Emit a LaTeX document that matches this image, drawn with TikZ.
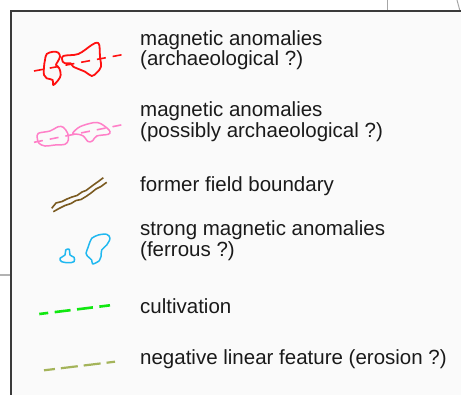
\documentclass[tikz,border=0pt]{standalone}
\usepackage{fontspec}
\setmainfont{Liberation Sans}
\definecolor{boxbg}{HTML}{FAFAFA}
\definecolor{boxline}{HTML}{3A3A3A}
\definecolor{txt}{HTML}{1A1A1A}
\definecolor{redanom}{HTML}{FF1010}
\definecolor{pinkanom}{HTML}{FF80C8}
\definecolor{brownb}{HTML}{7A5A20}
\definecolor{blueanom}{HTML}{20B8F0}
\definecolor{greencult}{HTML}{10E810}
\definecolor{oliveneg}{HTML}{A4B45A}
\tikzset{
  lbl/.style={anchor=base west, inner sep=0pt, text=txt, font=\fontsize{20.5}{21}\selectfont},
  blob/.style={line width=1.8pt, line join=round, smooth cycle, tension=0.55},
}
\begin{document}
\begin{tikzpicture}[x=1pt,y=-1pt]
\useasboundingbox (0,0) rectangle (461,394);
\fill[white] (0,0) rectangle (461,394);
% stray lines outside the box
\draw[gray!70, line width=1pt] (387,0) -- (387,11);
\draw[gray!70, line width=1pt] (457,0) -- (460,11);
\draw[gray!60, line width=1.5pt] (0,275) -- (11,275);
% legend box
\fill[boxbg] (11,11) rectangle (465,398);
\draw[boxline, line width=1.5pt] (11,398) -- (11,11) -- (465,11);

% row 1: red anomalies
\draw[redanom, line width=1.6pt, dash pattern=on 9pt off 7pt] (34,71) -- (126,54);
\draw[redanom, blob] plot coordinates {(46.7,54) (53.3,51.7) (58.3,52.7) (60,56.7) (57.7,61.7) (56,65) (59.3,68.3) (60.7,75) (58.3,80) (53.3,85) (52.7,80) (46.7,78.3) (44,75) (44,66.7) (45,60)};
\draw[redanom, blob] plot coordinates {(63.3,56) (78.3,54) (91.7,45) (96.7,42.7) (99.3,45) (100,56.7) (101,66.7) (96.7,72.7) (91.7,76) (85,71.7) (73.3,66.7) (70.7,63.3) (65,63.3) (62.7,61.7)};
\node[lbl] (t1a) at (140,45) {magnetic anomalies};
\node[lbl] (t1b) at (140,65.5) {(archaeological ?)};

% row 2: pink anomalies
\draw[pinkanom, line width=1.6pt, dash pattern=on 9pt off 7pt] (34,142.3) -- (126,124);
\draw[pinkanom, blob, line width=1.5pt] plot coordinates {(38.3,133.3) (50,131) (58.3,126.7) (63.3,127.3) (67.7,133.3) (68.3,140) (65,144.3) (55,145) (45,146) (39,143.3) (37.3,138.3)};
\draw[pinkanom, blob, line width=1.5pt] plot coordinates {(72.7,133.3) (80,126.7) (93.3,122.7) (100,123.3) (107.3,128.3) (110,131.7) (108.3,134.3) (96.7,136) (92.7,140.7) (88.3,141.7) (83.3,136) (78.3,134.3)};
\node[lbl] (t2a) at (140,116.5) {magnetic anomalies};
\node[lbl] (t2b) at (140,137) {(possibly archaeological ?)};

% row 3: former field boundary
\draw[brownb, line width=1.6pt, line join=round] (51.7,208.3) -- (56,203) -- (62,201.5) -- (67,199) -- (72,197) -- (77,195.5) -- (82,192) -- (86,190.5) -- (90,187.5) -- (94,184.5) -- (99,181) -- (103.3,177.7);
\draw[brownb, line width=1.6pt, line join=round] (53.3,211.7) -- (59,208.5) -- (65,205.5) -- (71,203.5) -- (76,200.5) -- (81,199.5) -- (86,196.5) -- (91,193) -- (96,189) -- (101,186.5) -- (106.7,182.3);
\node[lbl] (t3) at (140,191) {former field boundary};

% row 4: strong magnetic anomalies
\draw[blueanom, blob, line width=1.5pt] plot coordinates {(60,258.3) (65,255) (65.7,250) (69.3,249.3) (70,255) (74,257.3) (74,261.7) (68.3,262.7) (61.7,261.7)};
\draw[blueanom, blob, line width=1.5pt] plot coordinates {(91.7,238.3) (98.3,235) (106.7,234.3) (110,238.3) (106.7,245) (101.7,250) (101,256.7) (99.3,260.7) (92.7,264) (91.7,260) (87.3,256) (86,253.3) (88.3,246.7) (90,241.7)};
\node[lbl] (t4a) at (140,235) {strong magnetic anomalies};
\node[lbl] (t4b) at (140,256) {(ferrous ?)};

% row 5: cultivation
\draw[greencult, line width=2.6pt, dash pattern=on 16pt off 6.5pt, dash phase=7pt] (39.3,314) -- (110,305.3);
\node[lbl] (t5) at (140,313.5) {cultivation};

% row 6: negative linear feature
\draw[oliveneg, line width=2.2pt, dash pattern=on 17pt off 6pt, dash phase=6pt] (44,370.3) -- (115,361.7);
\node[lbl] (t6) at (140,364) {negative linear feature (erosion ?)};
\end{tikzpicture}
\end{document}
